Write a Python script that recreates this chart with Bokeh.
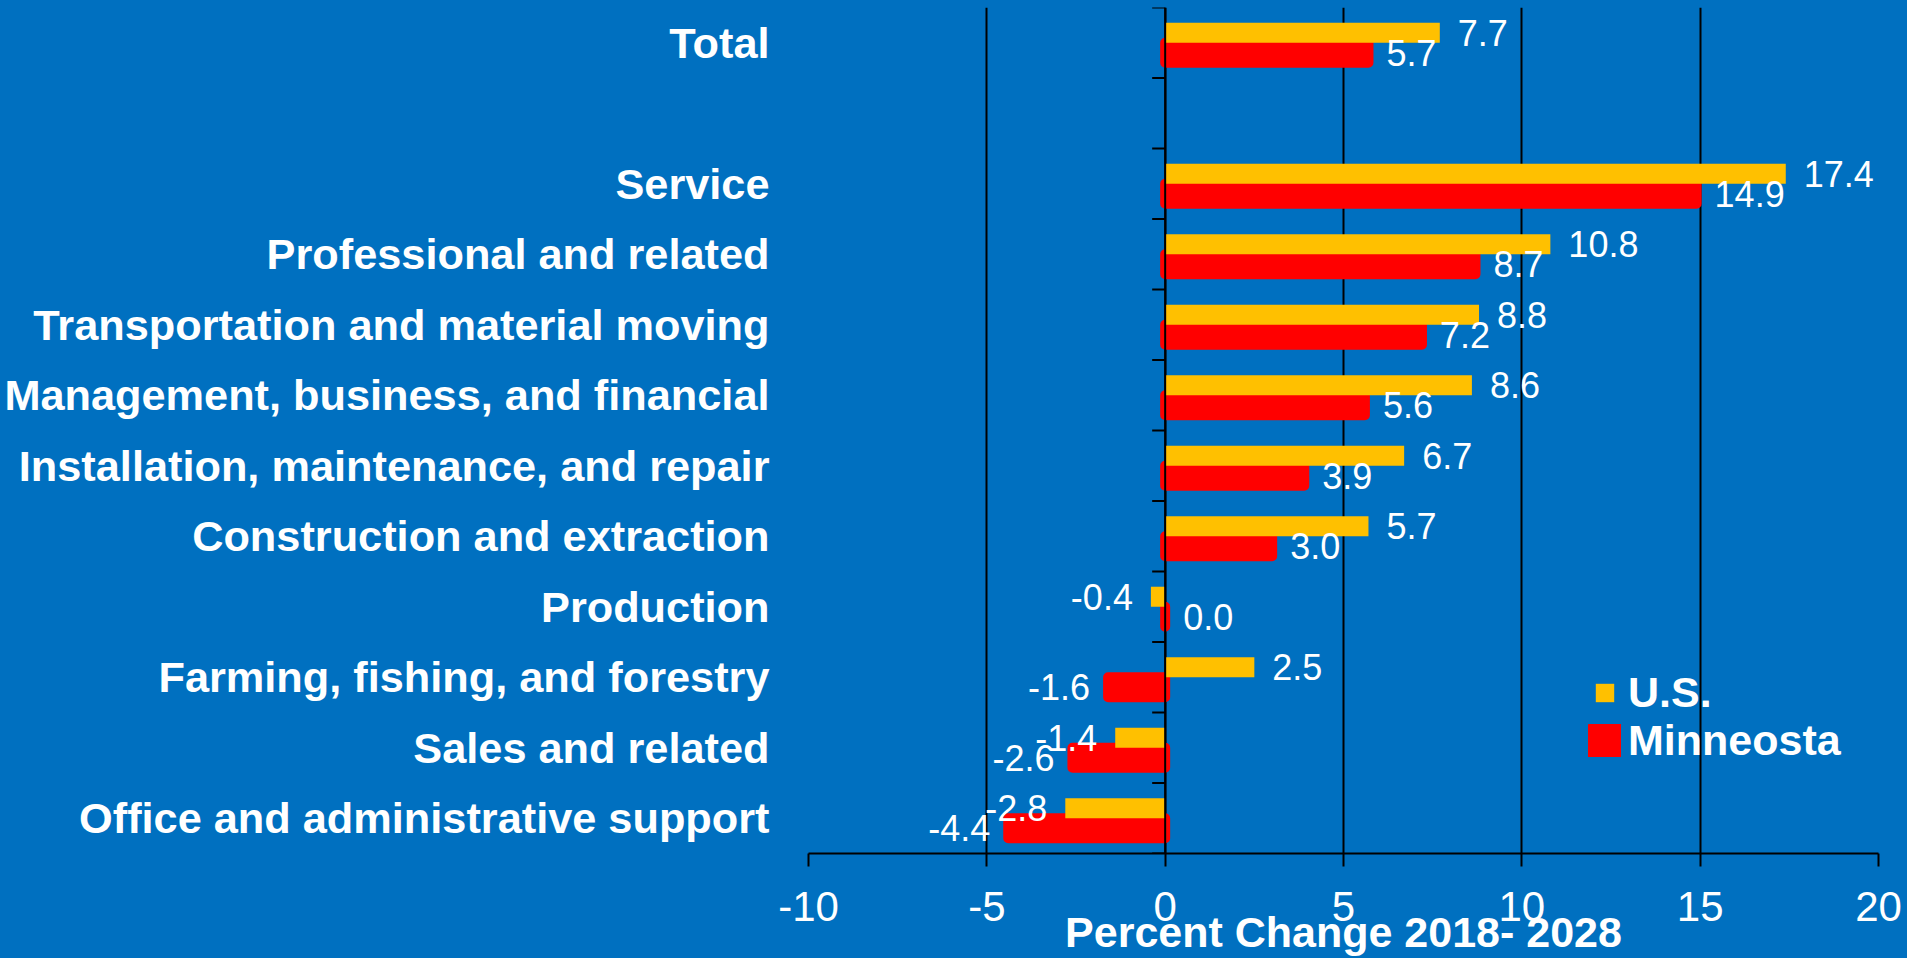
import math
from bokeh.plotting import figure
from bokeh.models import (Range1d, FixedTicker, Span, Legend, LegendItem)
from bokeh.core.properties import value
from bokeh.embed import file_html
from bokeh.resources import INLINE

# ---------------- data ----------------
categories = ["Total", "", "Service", "Professional and related",
              "Transportation and material moving",
              "Management, business, and financial",
              "Installation, maintenance, and repair",
              "Construction and extraction", "Production",
              "Farming, fishing, and forestry", "Sales and related",
              "Office and administrative support"]
us_values = [7.7, None, 17.4, 10.8, 8.8, 8.6, 6.7, 5.7, -0.4, 2.5, -1.4, -2.8]
mn_values = [5.7, None, 14.9, 8.7, 7.2, 5.6, 3.9, 3.0, 0.0, -1.6, -2.6, -4.4]
x_ticks = [-10, -5, 0, 5, 10, 15, 20]
series_names = ["U.S.", "Minneosta"]
axis_title = "Percent Change 2018- 2028"

BLUE = "#0070C0"
YELLOW = "#FFC000"
RED = "#FF0000"
FONT = "Liberation Sans"

W, H = 1907, 958
FRAME_L, FRAME_R, FRAME_T, FRAME_B = 808, 1878, 7, 853

n = len(categories)
centers = [n - i - 0.5 for i in range(n)]
bar_h = 0.284
off = 0.142

p = figure(width=W, height=H, output_backend="svg", toolbar_location=None,
           x_range=Range1d(x_ticks[0], x_ticks[-1]), y_range=Range1d(0, n),
           min_border_left=FRAME_L, min_border_right=W - FRAME_R,
           min_border_top=FRAME_T, min_border_bottom=H - FRAME_B)
p.background_fill_color = BLUE
p.border_fill_color = BLUE
p.outline_line_color = None

def rows(vals, sign):
    ys, xs, txt = [], [], []
    for c, v in zip(centers, vals):
        if v is None:
            continue
        ys.append(c + sign * off)
        xs.append(v)
        txt.append(f"{v:.1f}")
    return dict(y=ys, x=xs, t=txt)

us = rows(us_values, +1)
mn = rows(mn_values, -1)

r_mn = p.hbar(y=mn["y"], right=mn["x"], left=0, height=bar_h, fill_color=RED,
              line_color=RED, line_width=10, line_join="round")
r_us = p.hbar(y=us["y"], right=us["x"], left=0, height=bar_h, fill_color=YELLOW,
              line_color=None)

# data labels
for d in (us, mn):
    pos = [(x, y, t) for x, y, t in zip(d["x"], d["y"], d["t"]) if x >= 0]
    neg = [(x, y, t) for x, y, t in zip(d["x"], d["y"], d["t"]) if x < 0]
    for grp, align, xo in ((pos, "left", 18), (neg, "right", -18)):
        if not grp:
            continue
        p.text(x=[g[0] for g in grp], y=[g[1] for g in grp], text=[g[2] for g in grp],
               x_offset=xo, text_align=align, text_baseline="middle",
               text_color="white", text_font=value(FONT), text_font_size="36px")

# inner y axis at x=0 with outward ticks at category boundaries
p.ray(x=[0] * (n + 1), y=list(range(n + 1)), length=13, length_units="screen",
      angle=math.pi, line_color="black", line_width=2)
p.add_layout(Span(location=0, dimension="height", line_color="black", line_width=2))

# x axis
xa = p.xaxis[0]
xa.ticker = FixedTicker(ticks=x_ticks)
xa.major_label_overrides = {t: str(t) for t in x_ticks}
xa.axis_line_color = "black"
xa.axis_line_width = 2
xa.major_tick_line_color = "black"
xa.major_tick_line_width = 2
xa.major_tick_out = 13
xa.major_tick_in = 0
xa.minor_tick_line_color = None
xa.major_label_text_color = "white"
xa.major_label_text_font = FONT
xa.major_label_text_font_size = "42px"
xa.major_label_standoff = 25
xa.axis_label = axis_title
xa.axis_label_standoff = -16
xa.axis_label_text_color = "white"
xa.axis_label_text_font = FONT
xa.axis_label_text_font_style = "bold"
xa.axis_label_text_font_size = "43px"

# category axis (labels at low position)
ya = p.yaxis[0]
ya.ticker = FixedTicker(ticks=centers)
ya.major_label_overrides = {c: name for c, name in zip(centers, categories)}
ya.axis_line_color = None
ya.major_tick_line_color = None
ya.minor_tick_line_color = None
ya.major_tick_out = 0
ya.major_tick_in = 0
ya.major_label_standoff = 39
ya.major_label_text_color = "white"
ya.major_label_text_font = FONT
ya.major_label_text_font_style = "bold"
ya.major_label_text_font_size = "43.3px"

p.xgrid.ticker = FixedTicker(ticks=x_ticks)
p.xgrid.grid_line_color = "black"
p.xgrid.grid_line_width = 2
p.ygrid.grid_line_color = None

common = dict(spacing=0, padding=0, margin=0, border_line_color=None,
              background_fill_alpha=0, label_text_color="white",
              label_text_font=FONT, label_text_font_style="bold",
              label_text_font_size="43px", label_height=48)
leg_us = Legend(items=[LegendItem(label=series_names[0], renderers=[r_us])],
                location=(785, 136), glyph_width=23, glyph_height=23,
                label_standoff=12, **common)
leg_mn = Legend(items=[LegendItem(label=series_names[1], renderers=[r_mn])],
                location=(780, 88), glyph_width=33, glyph_height=33,
                label_standoff=7, **common)
p.add_layout(leg_us)
p.add_layout(leg_mn)

html = file_html(p, INLINE)
html = html.replace("</head>", "<style>html,body{background:%s;}</style></head>" % BLUE, 1)
open("out.html", "w").write(html)
